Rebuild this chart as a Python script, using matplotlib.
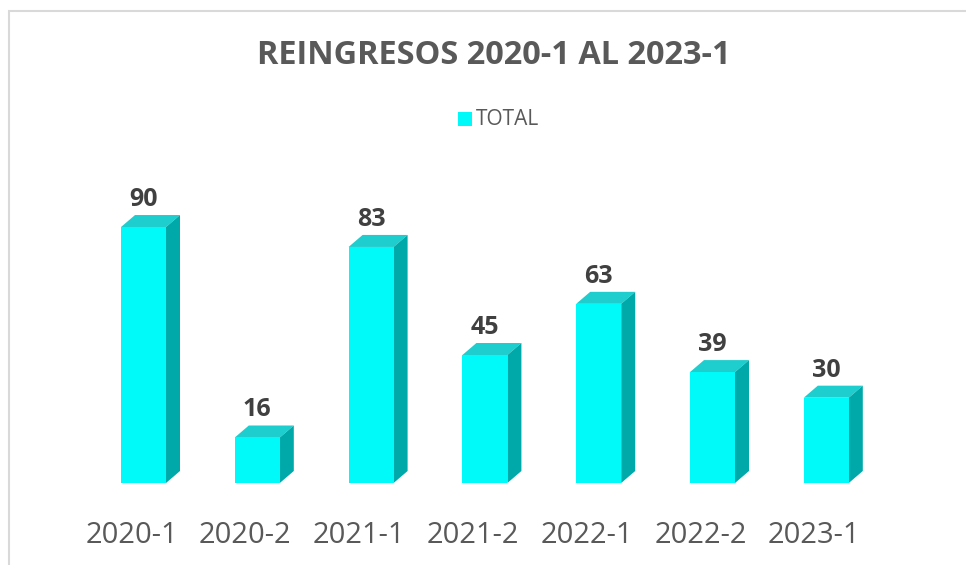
import matplotlib
matplotlib.use("Agg")
import matplotlib.pyplot as plt
from matplotlib.patches import Polygon, Rectangle
import numpy as np

plt.rcParams['font.family'] = ['Open Sans', 'DejaVu Sans']

# Data
periods = ["2020-1", "2020-2", "2021-1", "2021-2", "2022-1", "2022-2", "2023-1"]
total = [90, 16, 83, 45, 63, 39, 30]

# Colours
FRONT = "#00FAFA"
TOP = "#1ECDCD"
SIDE = "#00A9A9"
TEXT = "#595959"
LABEL = "#404040"

W, H = 966, 565
fig = plt.figure(figsize=(W / 100, H / 100), dpi=100)
fig.set_facecolor("white")

# axes cover whole figure, limits chosen so baseline/step match the reference
ax = fig.add_axes([0, 0, 1, 1])
step_px, unit_px, x0_px, base_px = 113.8, 2.844, 143.5, 483
ax.set_xlim(-x0_px / step_px, (W - x0_px) / step_px)
ax.set_ylim(-(H - base_px) / unit_px, base_px / unit_px)
ax.axis("off")

x = np.arange(len(periods))
w = 45 / step_px
dx = 14 / step_px
dy = 12 / unit_px

ax.bar(x, total, width=w, color=FRONT, zorder=3)
for xi, v in zip(x, total):
    l, r = xi - w / 2, xi + w / 2
    ax.add_patch(Polygon([(l, v), (r, v), (r + dx, v + dy), (l + dx, v + dy)],
                         closed=True, facecolor=TOP, edgecolor="none", zorder=2))
    ax.add_patch(Polygon([(r, 0), (r + dx, dy), (r + dx, v + dy), (r, v)],
                         closed=True, facecolor=SIDE, edgecolor="none", zorder=2))
    ax.text(xi, v + dy + 9 / unit_px, str(v), ha="center", va="baseline",
            fontsize=18, fontweight="bold", color=LABEL, zorder=4)

# category labels
for xi, lab in zip(x, periods):
    ax.text(xi - 12 / step_px, -60 / unit_px, lab, ha="center", va="baseline",
            fontsize=21, color=TEXT)

# title
fig.text(494 / W, 1 - 64 / H, "REINGRESOS 2020-1 AL 2023-1", ha="center",
         va="baseline", fontsize=23.4, fontweight="bold", color=TEXT)

# legend
fig.patches.append(Rectangle((458 / W, 1 - 126 / H), 14 / W, 14 / H,
                             transform=fig.transFigure, facecolor=FRONT,
                             edgecolor="none"))
fig.text(476 / W, 1 - 125 / H, "TOTAL", ha="left", va="baseline",
         fontsize=15, color=TEXT)

# chart-area frame
fig.patches.append(Rectangle((8.5 / W, -0.05), 1.1, 1 - 10.5 / H + 0.05,
                             transform=fig.transFigure, facecolor="none",
                             edgecolor="#D9D9D9", lw=1.5))

fig.savefig("out.png", dpi=100, facecolor="white")
